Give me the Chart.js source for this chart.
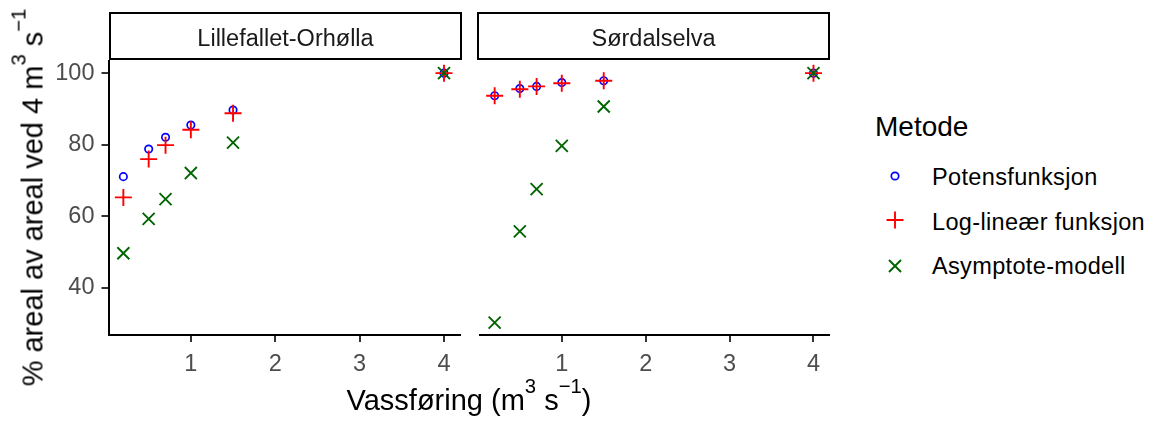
<!DOCTYPE html>
<html lang="no">
<head>
<meta charset="utf-8">
<title>Areal mot vassføring</title>
<script src="https://cdn.jsdelivr.net/npm/chart.js@4"></script>
<style>
  html, body { margin: 0; padding: 0; background: #fff; }
  #wrap { position: relative; width: 1150px; height: 425px; overflow: hidden;
          font-family: "Liberation Sans", Arial, sans-serif; color: #000; }
  .abs { position: absolute; }
  canvas { position: absolute; top: 0; }
  .strip { position: absolute; top: 12px; height: 47.5px; box-sizing: border-box;
           border: 2.8px solid #000; background: #fff; }
  .strip span { position: absolute; left: 0; right: 0; text-align: center;
                font-size: 23.5px; line-height: 1; color: #1a1a1a; white-space: nowrap; }
  .title { font-size: 29px; line-height: 1; white-space: nowrap; }
  .sup { font-size: 0.7em; position: relative; top: -0.85em; }
  .leg { position: absolute; font-size: 23.5px; line-height: 1; white-space: nowrap; color: #000;
         letter-spacing: 0.35px; }
</style>
</head>
<body>
<div id="wrap">
  <canvas id="pLeft" width="470" height="400" style="left:0"></canvas>
  <canvas id="pRight" width="370" height="400" style="left:470px"></canvas>

  <div class="strip" style="left:109px;width:353px"><span id="s1" style="top:12.5px"></span></div>
  <div class="strip" style="left:477px;width:353px"><span id="s2" style="top:12.5px"></span></div>

  <div class="abs title" id="xTitle" style="left:269px;width:400px;top:386px;text-align:center">
    Vassføring (m<span class="sup">3</span> s<span class="sup">−1</span>)</div>
  <div class="abs title" id="yTitle" style="left:-166.7px;top:183.25px;width:400px;text-align:center;transform:rotate(-90deg);transform-origin:200px 14.5px">
    % areal av areal ved 4 m<span class="sup">3</span> s<span class="sup">−1</span></div>

  <div class="leg" id="legTitle" style="left:875px;top:113px;font-size:28px;letter-spacing:0"></div>
  <div id="legItems"></div>
</div>

<script>
// Discharge values (m3/s) shared by both sites
const discharge = [0.2, 0.5, 0.7, 1, 1.5, 4];

// Site names (facet strips)
const sites = ["Lillefallet-Orhølla", "Sørdalselva"];

// Method names (legend)
const methods = ["Potensfunksjon", "Log-lineær funksjon", "Asymptote-modell"];

// % of area at 4 m3/s, Lillefallet-Orhølla
const lilPotens = [71.1, 78.8, 82.1, 85.5, 89.7, 100];
const lilLogLin = [65.3, 76.0, 79.9, 84.2, 88.8, 100];
const lilAsymp  = [49.7, 59.3, 64.8, 72.1, 80.6, 100];

// % of area at 4 m3/s, Sørdalselva
const sorPotens = [93.7, 95.7, 96.3, 97.4, 97.9, 100];
const sorLogLin = [93.7, 95.5, 96.3, 97.2, 97.9, 100];
const sorAsymp  = [30.3, 55.8, 67.6, 79.7, 90.7, 100];

// Axis ticks and limits
const xTicks = [1, 2, 3, 4];
const yTicks = [40, 60, 80, 100];
const xLimits = [0.03, 4.185];
const yLimits = [27.0, 103.4];

const FONT = '"Liberation Sans", Arial, sans-serif';
const styles = [
  { color: '#0000FF', shape: 'circle',   radius: 3.7, width: 1.7, order: 3 },
  { color: '#FF0000', shape: 'cross',    radius: 8.5, width: 1.9, order: 2 },
  { color: '#006400', shape: 'crossRot', radius: 8.5, width: 1.9, order: 1 }
];

function toPoints(ys) {
  return discharge.map((x, i) => ({ x: x, y: ys[i] }));
}

function makeDatasets(seriesList) {
  return seriesList.map((ys, k) => ({
    label: methods[k],
    data: toPoints(ys),
    pointStyle: styles[k].shape,
    pointRadius: styles[k].radius,
    pointHoverRadius: styles[k].radius,
    pointBorderWidth: styles[k].width,
    pointBorderColor: styles[k].color,
    pointBackgroundColor: 'rgba(0,0,0,0)',
    borderColor: styles[k].color,
    backgroundColor: 'rgba(0,0,0,0)',
    showLine: false,
    order: styles[k].order,
    clip: false
  }));
}

const AREA_BOTTOM = 334.5;
const CANVAS_H = 400;

function axisCommon() {
  return {
    grid: { drawOnChartArea: false, drawTicks: true, tickLength: 7.5, color: '#333333', lineWidth: 2 },
    border: { display: true, color: '#000000', width: 2 },
    ticks: { color: '#4D4D4D', font: { family: FONT, size: 23.5 }, maxRotation: 0, autoSkip: false }
  };
}

function makePanel(id, seriesList, showY, pad) {
  const xs = axisCommon();
  xs.type = 'linear';
  xs.min = xLimits[0];
  xs.max = xLimits[1];
  xs.ticks.padding = 8;
  xs.ticks.callback = v => String(v);
  xs.afterBuildTicks = s => { s.ticks = xTicks.map(v => ({ value: v })); };
  xs.afterFit = s => { s.height = CANVAS_H - AREA_BOTTOM; };

  const ys = axisCommon();
  ys.type = 'linear';
  ys.min = yLimits[0];
  ys.max = yLimits[1];
  ys.display = showY;
  ys.ticks.padding = 7;
  ys.ticks.callback = v => String(v);
  ys.afterBuildTicks = s => { s.ticks = yTicks.map(v => ({ value: v })); };
  if (showY) ys.afterFit = s => { s.width = 109; };

  return new Chart(document.getElementById(id), {
    type: 'scatter',
    data: { datasets: makeDatasets(seriesList) },
    options: {
      responsive: false,
      animation: false,
      events: [],
      layout: { padding: pad },
      plugins: { legend: { display: false }, tooltip: { enabled: false } },
      scales: { x: xs, y: ys }
    }
  });
}

makePanel('pLeft', [lilPotens, lilLogLin, lilAsymp], true, { left: 0, right: 9, top: 61, bottom: 0 });
makePanel('pRight', [sorPotens, sorLogLin, sorAsymp], false, { left: 7, right: 11, top: 61, bottom: 0 });

document.getElementById('s1').textContent = sites[0];
document.getElementById('s2').textContent = sites[1];
document.getElementById('legTitle').textContent = 'Metode';

// Legend keys drawn as small SVG symbols next to the method names
const legTops = [166, 211, 255];
const legCentres = [176, 219.5, 266];
const svgNS = 'http://www.w3.org/2000/svg';
const legBox = document.getElementById('legItems');
methods.forEach((name, k) => {
  const st = styles[k];
  const svg = document.createElementNS(svgNS, 'svg');
  svg.setAttribute('width', 24);
  svg.setAttribute('height', 24);
  svg.style.position = 'absolute';
  svg.style.left = (894.5 - 12) + 'px';
  svg.style.top = (legCentres[k] - 12) + 'px';
  let shape;
  if (st.shape === 'circle') {
    shape = document.createElementNS(svgNS, 'circle');
    shape.setAttribute('cx', 12); shape.setAttribute('cy', 12); shape.setAttribute('r', st.radius);
    shape.setAttribute('fill', 'none');
  } else {
    shape = document.createElementNS(svgNS, 'path');
    const r = st.radius, d = r * Math.SQRT1_2;
    shape.setAttribute('d', st.shape === 'cross'
      ? `M${12 - r} 12 L${12 + r} 12 M12 ${12 - r} L12 ${12 + r}`
      : `M${12 - d} ${12 - d} L${12 + d} ${12 + d} M${12 + d} ${12 - d} L${12 - d} ${12 + d}`);
  }
  shape.setAttribute('stroke', st.color);
  shape.setAttribute('stroke-width', st.width);
  svg.appendChild(shape);
  legBox.appendChild(svg);

  const t = document.createElement('div');
  t.className = 'leg';
  t.style.left = '932px';
  t.style.top = legTops[k] + 'px';
  t.textContent = name;
  legBox.appendChild(t);
});
</script>
</body>
</html>
